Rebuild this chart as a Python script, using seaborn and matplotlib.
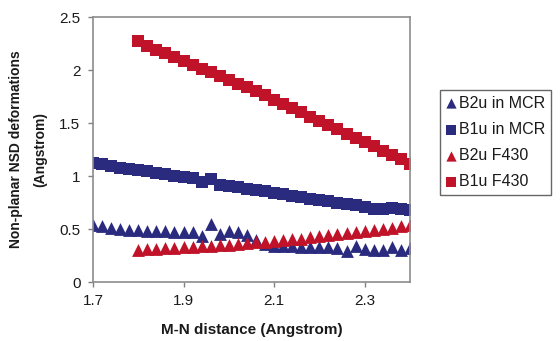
import numpy as np
import pandas as pd
import matplotlib
matplotlib.use("Agg")
import matplotlib.pyplot as plt
import seaborn as sns

# --- data ---
x_mcr = [1.70, 1.72, 1.74, 1.76, 1.78, 1.80, 1.82, 1.84, 1.86, 1.88, 1.90, 1.92,
         1.94, 1.96, 1.98, 2.00, 2.02, 2.04, 2.06, 2.08, 2.10, 2.12, 2.14, 2.16,
         2.18, 2.20, 2.22, 2.24, 2.26, 2.28, 2.30, 2.32, 2.34, 2.36, 2.38, 2.40]
b2u_mcr = [0.54, 0.53, 0.51, 0.50, 0.49, 0.49, 0.48, 0.48, 0.48, 0.47, 0.47, 0.47,
           0.43, 0.55, 0.45, 0.48, 0.47, 0.44, 0.40, 0.36, 0.34, 0.34, 0.34, 0.33,
           0.33, 0.33, 0.33, 0.32, 0.29, 0.34, 0.31, 0.30, 0.30, 0.33, 0.30, 0.32]
b1u_mcr = [1.12, 1.11, 1.09, 1.08, 1.07, 1.06, 1.05, 1.03, 1.02, 1.00, 0.99, 0.98,
           0.94, 0.97, 0.92, 0.91, 0.90, 0.88, 0.87, 0.86, 0.84, 0.83, 0.81, 0.80,
           0.78, 0.77, 0.76, 0.75, 0.74, 0.73, 0.71, 0.69, 0.69, 0.70, 0.69, 0.68]

x_f430 = [1.80, 1.82, 1.84, 1.86, 1.88, 1.90, 1.92, 1.94, 1.96, 1.98, 2.00, 2.02,
          2.04, 2.06, 2.08, 2.10, 2.12, 2.14, 2.16, 2.18, 2.20, 2.22, 2.24, 2.26,
          2.28, 2.30, 2.32, 2.34, 2.36, 2.38, 2.40]
b2u_f430 = [0.30, 0.31, 0.31, 0.32, 0.32, 0.33, 0.33, 0.34, 0.34, 0.35, 0.35, 0.36,
            0.37, 0.38, 0.38, 0.39, 0.40, 0.41, 0.41, 0.42, 0.43, 0.44, 0.45, 0.46,
            0.47, 0.48, 0.49, 0.50, 0.51, 0.53, 0.54]
b1u_f430 = [2.27, 2.23, 2.19, 2.16, 2.12, 2.09, 2.05, 2.01, 1.98, 1.94, 1.91, 1.87,
            1.84, 1.80, 1.76, 1.72, 1.68, 1.64, 1.60, 1.56, 1.52, 1.48, 1.44, 1.40,
            1.36, 1.32, 1.28, 1.24, 1.20, 1.16, 1.11]

series_names = ["B2u in MCR", "B1u in MCR", "B2u F430", "B1u F430"]

NAVY = "#2a2a7e"
RED = "#c01228"
TXT = "#1a1a1a"

sns.set_style("white")
plt.rcParams['font.family'] = ['Liberation Sans', 'DejaVu Sans']

fig = plt.figure(figsize=(5.6, 3.41), dpi=100)
ax = fig.add_axes([0.166, 0.173, 0.566, 0.777])

series = [
    (x_mcr, b2u_mcr, "^", NAVY, 85),
    (x_mcr, b1u_mcr, "s", NAVY, 66),
    (x_f430, b2u_f430, "^", RED, 85),
    (x_f430, b1u_f430, "s", RED, 66),
]
for name, (xs, ys, mk, col, sz) in zip(series_names, series):
    df = pd.DataFrame({"x": xs, "y": ys})
    sns.scatterplot(data=df, x="x", y="y", marker=mk, color=col, s=sz,
                    linewidth=0, ax=ax, label=name, legend=False)

ax.set_xlim(1.7, 2.4)
ax.set_ylim(0, 2.5)
ax.set_xticks([1.7, 1.9, 2.1, 2.3])
ax.set_xticklabels(["1.7", "1.9", "2.1", "2.3"])
ax.set_yticks([0, 0.5, 1, 1.5, 2, 2.5])
ax.set_yticklabels(["0", "0.5", "1", "1.5", "2", "2.5"])
ax.tick_params(axis="both", direction="out", length=3.5, width=1, color="#808080",
               labelsize=11, labelcolor=TXT)
ax.tick_params(axis="x", bottom=True, pad=5)
ax.tick_params(axis="y", left=True, pad=5.5)
for sp in ax.spines.values():
    sp.set_color("#8c8c8c")
    sp.set_linewidth(1.2)

ax.set_xlabel("M-N distance (Angstrom)", fontsize=11, fontweight="bold",
              labelpad=11, color=TXT)
ax.set_ylabel("Non-planar NSD deformations\n(Angstrom)", fontsize=10,
              fontweight="bold", labelpad=9, linespacing=1.9, color=TXT)

handles, labels = ax.get_legend_handles_labels()
leg = fig.legend(handles, labels, loc="upper left", bbox_to_anchor=(0.786, 0.736),
                 frameon=True, fancybox=False, edgecolor="#404040", fontsize=11.5,
                 handletextpad=0.2, borderpad=0.35, labelspacing=0.7,
                 handlelength=0.65, markerscale=0.8, borderaxespad=0)
for t in leg.get_texts():
    t.set_color(TXT)

fig.savefig("out.png", dpi=100)
